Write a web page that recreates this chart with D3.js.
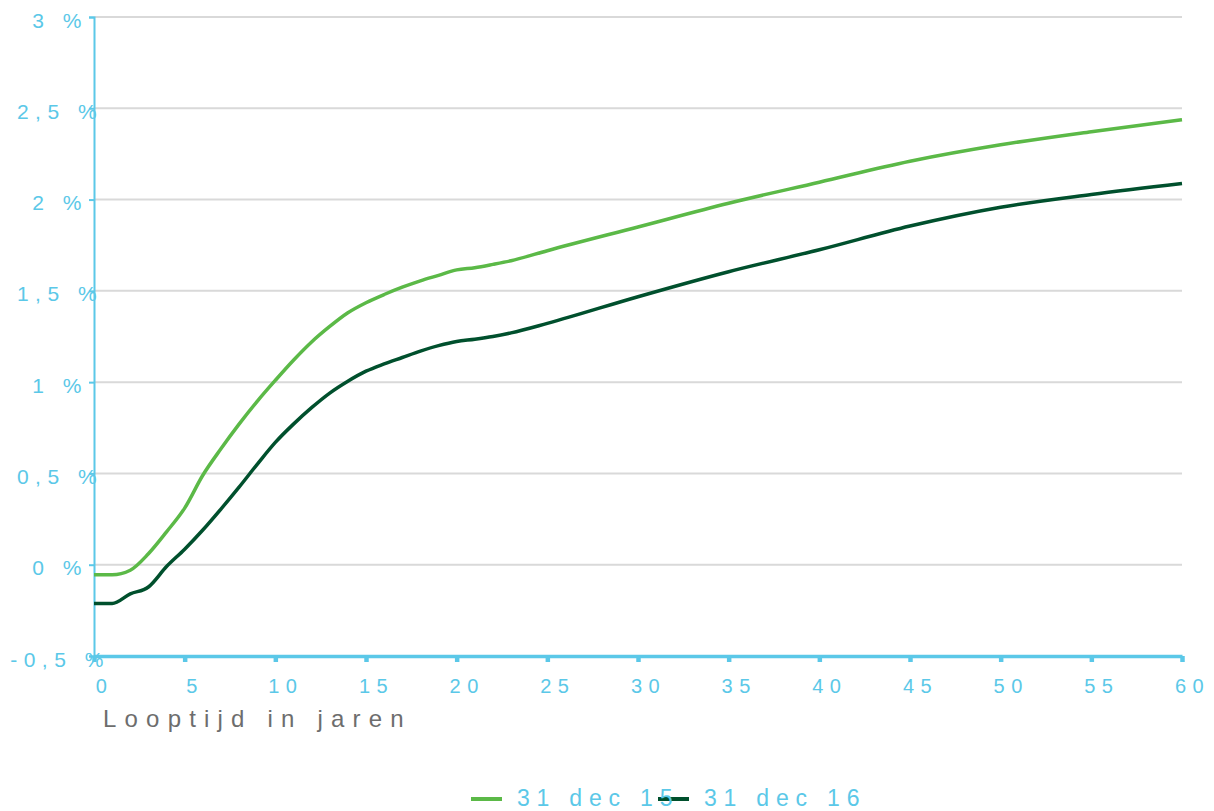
<!DOCTYPE html>
<html>
<head>
<meta charset="utf-8">
<script src="https://cdn.jsdelivr.net/npm/d3@7"></script>
<style>
  body { margin: 0; background: #fff; }
  svg { display: block; font-family: "Liberation Sans", Arial, sans-serif; }
</style>
</head>
<body>
<svg id="chart" width="1214" height="811"></svg>
<script>
// ---- data ----
const years = [0,1,2,3,4,5,6,7,8,9,10,11,12,13,14,15,16,17,18,19,20,21,22,23,25,30,35,40,45,50,55,60];
const dec15 = [-0.055,-0.055,-0.03,0.06,0.18,0.31,0.49,0.635,0.77,0.895,1.01,1.12,1.22,1.305,1.38,1.435,1.48,1.52,1.555,1.585,1.615,1.627,1.645,1.665,1.72,1.85,1.98,2.095,2.21,2.30,2.372,2.437];
const dec16 = [-0.213,-0.213,-0.16,-0.122,-0.01,0.085,0.19,0.305,0.425,0.55,0.67,0.77,0.86,0.94,1.005,1.06,1.10,1.135,1.17,1.20,1.223,1.235,1.25,1.27,1.322,1.468,1.605,1.725,1.855,1.958,2.028,2.088];
const seriesNames = ["31 dec 15", "31 dec 16"];
const seriesColors = ["#5bb947", "#00502d"];
const yTicks = [-0.5, 0, 0.5, 1, 1.5, 2, 2.5, 3];
const xTicks = [0,5,10,15,20,25,30,35,40,45,50,55,60];
const xTitle = "Looptijd in jaren";

const axisColor = "#5bc8e8";
const svg = d3.select("#chart");
const x = d3.scaleLinear().domain([0, 60]).range([94, 1182]);
const y = d3.scaleLinear().domain([-0.5, 3]).range([656, 17]);

// gridlines
svg.append("g").selectAll("line").data(yTicks.filter(v => v > -0.5)).join("line")
  .attr("x1", x(0)).attr("x2", x(60))
  .attr("y1", d => y(d)).attr("y2", d => y(d))
  .attr("stroke", "#d9d9d9").attr("stroke-width", 2);

// y axis
const fmt = v => (String(v).replace(".", ",")) + " %";
const yAxis = svg.append("g").attr("transform", `translate(${x(0)},0)`)
  .call(d3.axisLeft(y).tickValues(yTicks).tickSize(5).tickFormat(fmt));
yAxis.select(".domain").attr("stroke", axisColor).attr("stroke-width", 2);
yAxis.selectAll(".tick line").attr("stroke", axisColor).attr("stroke-width", 2);
yAxis.selectAll(".tick text")
  .attr("x", -34).attr("dy", 0).attr("y", 10)
  .attr("text-anchor", "middle")
  .attr("fill", axisColor).attr("font-size", 21)
  .style("letter-spacing", "6.5px")
  .attr("font-family", "Liberation Sans, Arial, sans-serif");

// lines
const line = d3.line().x((d, i) => x(years[i])).y(d => y(d)).curve(d3.curveMonotoneX);
[dec15, dec16].forEach((s, k) => {
  svg.append("path").datum(s)
    .attr("d", line)
    .attr("fill", "none")
    .attr("stroke", seriesColors[k])
    .attr("stroke-width", 3.5)
    .attr("stroke-linejoin", "round");
});

// x axis
const xAxis = svg.append("g").attr("transform", `translate(0,${y(-0.5)})`)
  .call(d3.axisBottom(x).tickValues(xTicks).tickSize(6).tickSizeOuter(0).tickFormat(d3.format("d")));
xAxis.select(".domain").attr("stroke", axisColor).attr("stroke-width", 3.5);
xAxis.selectAll(".tick line").attr("stroke", axisColor).attr("stroke-width", 4.5);
xAxis.selectAll(".tick text")
  .attr("y", 37).attr("dy", 0).attr("dx", 10)
  .attr("text-anchor", "middle")
  .attr("fill", axisColor).attr("font-size", 20)
  .style("letter-spacing", "6.5px")
  .attr("font-family", "Liberation Sans, Arial, sans-serif");

// x title
svg.append("text").attr("x", 103).attr("y", 727)
  .attr("fill", "#6d6d6d").attr("font-size", 24)
  .style("letter-spacing", "8.2px")
  .text(xTitle);

// legend
const legendX = [471, 658];
seriesNames.forEach((n, k) => {
  svg.append("line").attr("x1", legendX[k]).attr("x2", legendX[k] + 31)
    .attr("y1", 799).attr("y2", 799)
    .attr("stroke", seriesColors[k]).attr("stroke-width", 4);
});
seriesNames.forEach((n, k) => {
  svg.append("text").attr("x", legendX[k] + 46).attr("y", 806)
    .attr("fill", axisColor).attr("font-size", 23)
    .style("letter-spacing", "6.8px")
    .text(n);
});
</script>
</body>
</html>
